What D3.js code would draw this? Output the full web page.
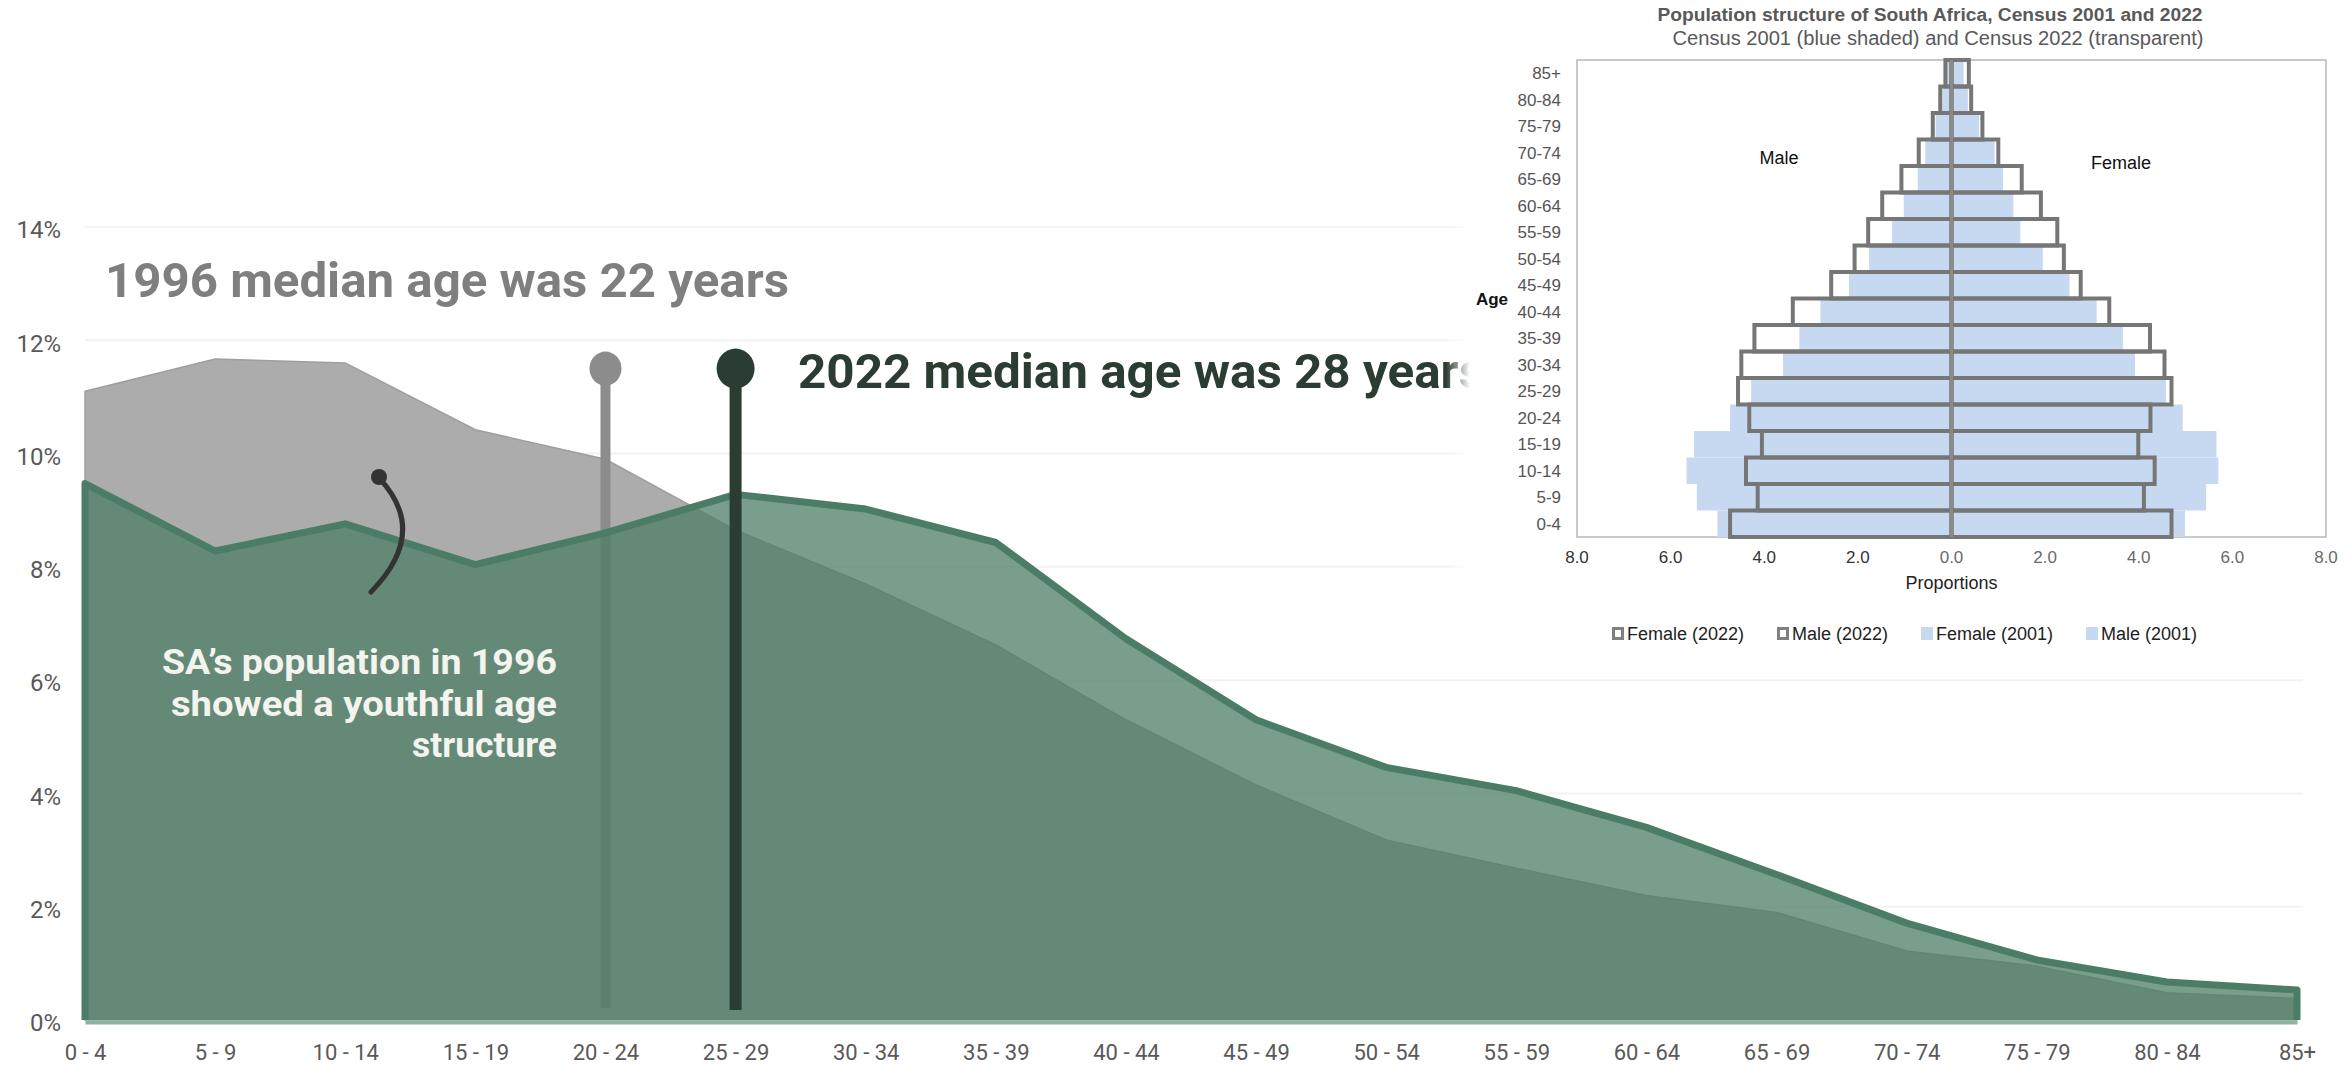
<!DOCTYPE html>
<html>
<head>
<meta charset="utf-8">
<script src="https://cdn.jsdelivr.net/npm/d3@7"></script>
<style>
  html, body { margin: 0; padding: 0; background: #ffffff; overflow: hidden; }
  svg { display: block; }
</style>
</head>
<body>
<svg id="chart" width="2348" height="1068"></svg>
<script>
// ---- Main chart data: share of population by five-year age group (%) ----
const ageGroups = ["0 - 4", "5 - 9", "10 - 14", "15 - 19", "20 - 24", "25 - 29", "30 - 34", "35 - 39",
  "40 - 44", "45 - 49", "50 - 54", "55 - 59", "60 - 64", "65 - 69", "70 - 74", "75 - 79", "80 - 84", "85+"];
const share1996 = [11.1, 11.67, 11.6, 10.42, 9.9, 8.65, 7.7, 6.62, 5.3, 4.15, 3.18, 2.68, 2.2, 1.9, 1.22, 0.95, 0.48, 0.38];
const share2022 = [9.47, 8.28, 8.76, 8.04, 8.6, 9.28, 9.02, 8.43, 6.73, 5.3, 4.46, 4.05, 3.4, 2.57, 1.71, 1.06, 0.67, 0.53];
const yTicks = [0, 2, 4, 6, 8, 10, 12, 14];

// Median ages and the age group each one falls in
const medianYears = [1996, 2022];
const medianAges = [22, 28];
const medianGroups = ["20 - 24", "25 - 29"];

// ---- Inset pyramid data: proportions (%) by age group, Census 2001 and 2022 ----
const insetAges = ["0-4", "5-9", "10-14", "15-19", "20-24", "25-29", "30-34", "35-39", "40-44",
  "45-49", "50-54", "55-59", "60-64", "65-69", "70-74", "75-79", "80-84", "85+"];
const male2001 = [5.0, 5.44, 5.66, 5.5, 4.73, 4.28, 3.6, 3.25, 2.8, 2.19, 1.76, 1.27, 1.02, 0.72, 0.56, 0.34, 0.19, 0.11];
const female2001 = [4.99, 5.44, 5.7, 5.66, 4.94, 4.58, 3.92, 3.66, 3.1, 2.52, 1.95, 1.47, 1.32, 1.1, 0.92, 0.59, 0.35, 0.26];
const male2022 = [4.73, 4.14, 4.39, 4.05, 4.32, 4.56, 4.49, 4.21, 3.39, 2.57, 2.07, 1.78, 1.48, 1.07, 0.7, 0.4, 0.24, 0.13];
const female2022 = [4.7, 4.11, 4.34, 3.99, 4.25, 4.7, 4.55, 4.24, 3.37, 2.76, 2.4, 2.26, 1.91, 1.5, 1.0, 0.66, 0.42, 0.37];
const insetTicks = [-8, -6, -4, -2, 0, 2, 4, 6, 8];
const legendLabels = ["Female (2022)", "Male (2022)", "Female (2001)", "Male (2001)"];

// ---- Colours ----
const GRAY_AREA = "#acacac";
const GREEN = "rgb(78,125,101)";
const GREEN_LINE = "#4a7c66";
const DARK = "#2b3d32";
const BLUE = "#c6d9f0";

const svg = d3.select("#chart");
const FONT = "Roboto, 'Open Sans', sans-serif";

const x = d3.scalePoint().domain(ageGroups).range([85, 2297]);
const y = d3.scaleLinear().domain([0, 14]).range([1020, 227]);

// Horizontal gridlines
svg.append("g")
  .selectAll("line")
  .data(yTicks.filter(d => d > 0))
  .join("line")
  .attr("x1", x.range()[0]).attr("x2", x.range()[1] + 6)
  .attr("y1", d => y(d)).attr("y2", d => y(d))
  .attr("stroke", "#f2f2f2").attr("stroke-width", 2);

const area = d3.area()
  .x((d, i) => x(ageGroups[i]))
  .y0(y(0))
  .y1(d => y(d));

// 1996 distribution (grey)
svg.append("path")
  .datum(share1996)
  .attr("d", area)
  .attr("fill", GRAY_AREA)
  .attr("stroke", "#9e9e9e")
  .attr("stroke-width", 1.5);

// Median stems: the 1996 stem sits beneath the 2022 area
const stemTop = y(11.5);
const stemBottom = y(0) - 12;
svg.append("line")
  .attr("x1", x(medianGroups[0])).attr("x2", x(medianGroups[0]))
  .attr("y1", stemTop).attr("y2", stemBottom)
  .attr("stroke", "#8c8c8c").attr("stroke-width", 10);

// 2022 distribution (translucent green)
svg.append("path")
  .datum(share2022)
  .attr("d", area)
  .attr("fill", GREEN)
  .attr("fill-opacity", 0.75);

// 2022 outline
const outlinePts = [{ g: ageGroups[0], v: 0 }]
  .concat(share2022.map((v, i) => ({ g: ageGroups[i], v })))
  .concat([{ g: ageGroups[ageGroups.length - 1], v: 0 }]);
svg.append("path")
  .datum(outlinePts)
  .attr("d", d3.line().x(d => x(d.g)).y(d => y(d.v)))
  .attr("fill", "none")
  .attr("stroke", GREEN_LINE)
  .attr("stroke-width", 7)
  .attr("stroke-linejoin", "round");

// Median markers
svg.append("ellipse")
  .attr("cx", x(medianGroups[0])).attr("cy", stemTop)
  .attr("rx", 16).attr("ry", 17)
  .attr("fill", "#8c8c8c");
svg.append("line")
  .attr("x1", x(medianGroups[1])).attr("x2", x(medianGroups[1]))
  .attr("y1", stemTop).attr("y2", stemBottom + 2)
  .attr("stroke", DARK).attr("stroke-width", 12);
svg.append("ellipse")
  .attr("cx", x(medianGroups[1])).attr("cy", stemTop)
  .attr("rx", 19).attr("ry", 20)
  .attr("fill", DARK);

// Headline labels
svg.append("text")
  .attr("x", 105).attr("y", 297)
  .attr("font-family", FONT).attr("font-weight", 700).attr("font-size", 48)
  .attr("fill", "#7f7f7f")
  .attr("textLength", 684).attr("lengthAdjust", "spacingAndGlyphs")
  .text(`${medianYears[0]} median age was ${medianAges[0]} years`);

svg.append("text")
  .attr("x", 798).attr("y", 388)
  .attr("font-family", FONT).attr("font-weight", 700).attr("font-size", 49)
  .attr("fill", DARK)
  .attr("textLength", 686).attr("lengthAdjust", "spacingAndGlyphs")
  .text(`${medianYears[1]} median age was ${medianAges[1]} years`);

// Annotation inside the area
const noteLines = ["SA\u2019s population in 1996", "showed a youthful age", "structure"];
const noteWidths = [395, 386, 145];
svg.append("g")
  .selectAll("text")
  .data(noteLines)
  .join("text")
  .attr("x", 557)
  .attr("y", (d, i) => 674 + i * 41.5)
  .attr("text-anchor", "end")
  .attr("font-family", FONT).attr("font-weight", 700).attr("font-size", 35)
  .attr("fill", "#f4f4ef")
  .attr("textLength", (d, i) => noteWidths[i]).attr("lengthAdjust", "spacingAndGlyphs")
  .text(d => d);

// Connector
svg.append("path")
  .attr("d", "M379,478 Q430,532 371,592")
  .attr("fill", "none").attr("stroke", "#333333")
  .attr("stroke-width", 5).attr("stroke-linecap", "round");
svg.append("circle")
  .attr("cx", 379).attr("cy", 477).attr("r", 8)
  .attr("fill", "#333333");

// Axes
const yAxis = svg.append("g")
  .attr("transform", `translate(${x.range()[0]},0)`)
  .call(d3.axisLeft(y).tickValues(yTicks).tickFormat(d => d + "%").tickSize(0).tickPadding(24));
yAxis.select(".domain").remove();
yAxis.selectAll("text")
  .attr("font-family", FONT).attr("font-size", 24).attr("fill", "#595959")
  .attr("dy", "0.45em");

const xAxis = svg.append("g")
  .attr("transform", `translate(0,${y(0) + 2})`)
  .call(d3.axisBottom(x).tickSize(0).tickPadding(22));
xAxis.select(".domain").attr("stroke", "#8db4a0").attr("stroke-width", 4);
xAxis.selectAll("text")
  .attr("font-family", FONT).attr("font-size", 22).attr("fill", "#595959");

// ---- Inset: population pyramid ----
const inset = svg.append("g");
const fade = svg.append("defs").append("linearGradient").attr("id", "fade");
fade.append("stop").attr("offset", "0%").attr("stop-color", "#fff").attr("stop-opacity", 0);
fade.append("stop").attr("offset", "100%").attr("stop-color", "#fff").attr("stop-opacity", 1);
inset.append("rect").attr("x", 1446).attr("y", 0).attr("width", 24).attr("height", 662).attr("fill", "url(#fade)");
inset.append("rect").attr("x", 1470).attr("y", 0).attr("width", 878).attr("height", 662).attr("fill", "#ffffff");

const IFONT = "'Liberation Sans', Arial, sans-serif";
const ix = d3.scaleLinear().domain([-8, 8]).range([1577, 2326]);
const iy = d3.scaleBand().domain(insetAges).range([537, 60]).paddingInner(0);

inset.append("text")
  .attr("x", 1930).attr("y", 21).attr("text-anchor", "middle")
  .attr("font-family", IFONT).attr("font-weight", 700).attr("font-size", 18).attr("fill", "#595959")
  .attr("textLength", 545).attr("lengthAdjust", "spacingAndGlyphs")
  .text("Population structure of South Africa, Census 2001 and 2022");
inset.append("text")
  .attr("x", 1938).attr("y", 45).attr("text-anchor", "middle")
  .attr("font-family", IFONT).attr("font-size", 20).attr("fill", "#595959")
  .attr("textLength", 531).attr("lengthAdjust", "spacingAndGlyphs")
  .text("Census 2001 (blue shaded) and Census 2022 (transparent)");

// plot frame
inset.append("rect")
  .attr("x", ix(-8)).attr("y", iy.range()[1])
  .attr("width", ix(8) - ix(-8)).attr("height", iy.range()[0] - iy.range()[1])
  .attr("fill", "none").attr("stroke", "#b8b8b8").attr("stroke-width", 1.5);

const bw = iy.bandwidth();
// 2001 shaded bars
inset.append("g").selectAll("rect").data(insetAges).join("rect")
  .attr("x", (d, i) => ix(-male2001[i])).attr("y", d => iy(d))
  .attr("width", (d, i) => ix(0) - ix(-male2001[i])).attr("height", bw)
  .attr("fill", BLUE);
inset.append("g").selectAll("rect").data(insetAges).join("rect")
  .attr("x", ix(0)).attr("y", d => iy(d))
  .attr("width", (d, i) => ix(female2001[i]) - ix(0)).attr("height", bw)
  .attr("fill", BLUE);
// 2022 outlined bars
inset.append("g").selectAll("rect").data(insetAges).join("rect")
  .attr("x", (d, i) => ix(-male2022[i])).attr("y", d => iy(d))
  .attr("width", (d, i) => ix(0) - ix(-male2022[i])).attr("height", bw)
  .attr("fill", "none").attr("stroke", "#767676").attr("stroke-width", 4);
inset.append("g").selectAll("rect").data(insetAges).join("rect")
  .attr("x", ix(0)).attr("y", d => iy(d))
  .attr("width", (d, i) => ix(female2022[i]) - ix(0)).attr("height", bw)
  .attr("fill", "none").attr("stroke", "#767676").attr("stroke-width", 4);
// centre line
inset.append("line")
  .attr("x1", ix(0)).attr("x2", ix(0)).attr("y1", iy.range()[1]).attr("y2", iy.range()[0])
  .attr("stroke", "#8a8a8a").attr("stroke-width", 3);

// age labels
inset.append("g").selectAll("text").data(insetAges).join("text")
  .attr("x", 1561).attr("y", d => iy(d) + bw / 2).attr("dy", "0.36em")
  .attr("text-anchor", "end")
  .attr("font-family", IFONT).attr("font-size", 17).attr("fill", "#555555")
  .text(d => d);
inset.append("text")
  .attr("x", 1492).attr("y", 305).attr("text-anchor", "middle")
  .attr("font-family", IFONT).attr("font-weight", 700).attr("font-size", 17).attr("fill", "#111")
  .text("Age");

// proportion ticks
inset.append("g").selectAll("text").data(insetTicks).join("text")
  .attr("x", d => ix(d)).attr("y", 563).attr("text-anchor", "middle")
  .attr("font-family", IFONT).attr("font-size", 17)
  .attr("fill", d => d < 0 ? "#333333" : "#6a6a6a")
  .text(d => Math.abs(d).toFixed(1));
inset.append("text")
  .attr("x", ix(0)).attr("y", 589).attr("text-anchor", "middle")
  .attr("font-family", IFONT).attr("font-size", 18).attr("fill", "#222")
  .text("Proportions");

inset.append("text")
  .attr("x", 1779).attr("y", 164).attr("text-anchor", "middle")
  .attr("font-family", IFONT).attr("font-size", 18).attr("fill", "#111")
  .text("Male");
inset.append("text")
  .attr("x", 2121).attr("y", 169).attr("text-anchor", "middle")
  .attr("font-family", IFONT).attr("font-size", 18).attr("fill", "#111")
  .text("Female");

// legend
const legendX = [1612, 1777, 1921, 2086];
const legend = inset.append("g").selectAll("g").data(legendLabels).join("g")
  .attr("transform", (d, i) => `translate(${legendX[i]},0)`);
legend.append("rect")
  .attr("x", (d, i) => i < 2 ? 1.5 : 0).attr("y", (d, i) => i < 2 ? 628.5 : 627)
  .attr("width", (d, i) => i < 2 ? 9 : 12).attr("height", (d, i) => i < 2 ? 10 : 13)
  .attr("fill", (d, i) => i < 2 ? "#ffffff" : BLUE)
  .attr("stroke", (d, i) => i < 2 ? "#808080" : "none")
  .attr("stroke-width", 3);
legend.append("text")
  .attr("x", 15).attr("y", 640)
  .attr("font-family", IFONT).attr("font-size", 18).attr("fill", "#222")
  .text(d => d);
</script>
</body>
</html>
